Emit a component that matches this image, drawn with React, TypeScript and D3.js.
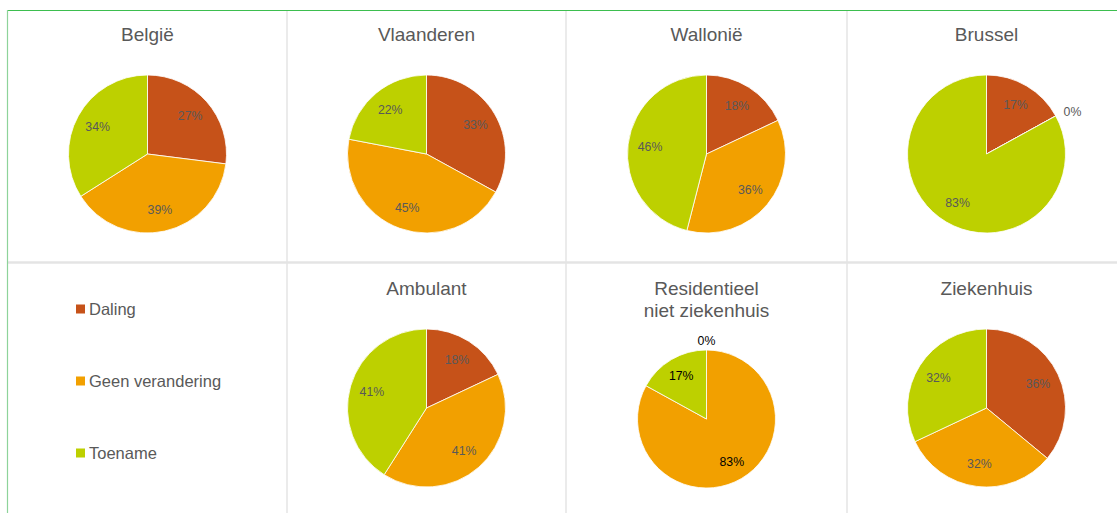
import React from "react";
import * as d3 from "d3";

const categories = ["Daling", "Geen verandering", "Toename"];
const colors = ["#C65219", "#F2A000", "#BDD000"];

const panelTitles = [
  ["België"],
  ["Vlaanderen"],
  ["Wallonië"],
  ["Brussel"],
  ["Ambulant"],
  ["Residentieel", "niet ziekenhuis"],
  ["Ziekenhuis"],
];

// percentages per panel: Daling, Geen verandering, Toename
const belgie = [27, 39, 34];
const vlaanderen = [33, 45, 22];
const wallonie = [18, 36, 46];
const brussel = [17, 0, 83];
const ambulant = [18, 41, 41];
const residentieel = [0, 83, 17];
const ziekenhuis = [36, 32, 32];

const panelValues = [belgie, vlaanderen, wallonie, brussel, ambulant, residentieel, ziekenhuis];
// grid slot of each panel (slot 4 holds the legend)
const panelSlots = [0, 1, 2, 3, 5, 6, 7];

const W = 1117;
const H = 513;
const colEdges = [8, 287, 566, 847, 1126];
const rowTops = [10, 264];
const font = "'Liberation Sans', Arial, sans-serif";

const pie = d3.pie<number>().sort(null).value((d) => d);

function PiePanel({ title, values, slot }: { title: string[]; values: number[]; slot: number }) {
  const col = slot % 4;
  const row = Math.floor(slot / 4);
  const cx = (colEdges[col] + colEdges[col + 1]) / 2;
  const twoLine = title.length > 1;
  const r = twoLine ? 69 : 79;
  const cy = rowTops[row] + (twoLine ? 155 : 144);
  const arc = d3.arc<d3.PieArcDatum<number>>().innerRadius(0).outerRadius(r);
  const arcs = pie(values);
  const labelColor = twoLine ? "#000000" : "#595959";

  return (
    <g>
      {title.map((t, i) => (
        <text
          key={t}
          x={cx}
          y={rowTops[row] + 24 + i * 22}
          textAnchor="middle"
          dominantBaseline="central"
          fontFamily={font}
          fontSize={19}
          fill="#595959"
        >
          {t}
        </text>
      ))}
      <g transform={`translate(${cx},${cy})`}>
        {arcs.map((a, i) => (
          <path key={i} d={arc(a) || ""} fill={colors[i]} stroke="#ffffff" strokeWidth={0.8} />
        ))}
        {arcs.map((a, i) => {
          const mid = (a.startAngle + a.endAngle) / 2;
          const zero = a.value === 0;
          const d = zero ? r + 9 : r * 0.72;
          const x = Math.sin(mid) * d;
          const y = -Math.cos(mid) * d;
          let anchor = "middle";
          if (zero && Math.sin(mid) > 0.3) anchor = "start";
          if (zero && Math.sin(mid) < -0.3) anchor = "end";
          return (
            <text
              key={"l" + i}
              x={x}
              y={y}
              textAnchor={anchor}
              dominantBaseline="central"
              fontFamily={font}
              fontSize={12.3}
              fill={labelColor}
            >
              {a.value + "%"}
            </text>
          );
        })}
      </g>
    </g>
  );
}

function Legend() {
  const ly = d3.scalePoint<string>().domain(categories).range([309, 453]);
  return (
    <g>
      {categories.map((c, i) => (
        <g key={c} transform={`translate(76,${ly(c)})`}>
          <rect x={0} y={-4.5} width={9} height={9} fill={colors[i]} />
          <text
            x={13}
            y={0}
            dominantBaseline="central"
            fontFamily={font}
            fontSize={16.5}
            fill="#595959"
          >
            {c}
          </text>
        </g>
      ))}
    </g>
  );
}

export default function App() {
  return (
    <svg
      width={W}
      height={H}
      viewBox={`0 0 ${W} ${H}`}
      style={{ position: "absolute", left: 0, top: 0, background: "#ffffff" }}
    >
      <rect x={0} y={0} width={W} height={H} fill="#ffffff" />
      {/* panel grid */}
      {colEdges.slice(1, 4).map((x) => (
        <line key={x} x1={x} x2={x} y1={rowTops[0]} y2={H} stroke="#E4E4E4" strokeWidth={1.5} />
      ))}
      <line x1={colEdges[0]} x2={W} y1={rowTops[1] - 1.5} y2={rowTops[1] - 1.5} stroke="#E4E4E4" strokeWidth={2.5} />
      {panelValues.map((v, i) => (
        <PiePanel key={i} title={panelTitles[i]} values={v} slot={panelSlots[i]} />
      ))}
      <Legend />
      {/* outer border */}
      <line x1={7} x2={W} y1={10.5} y2={10.5} stroke="#3DBE4F" strokeWidth={1} />
      <line x1={7.5} x2={7.5} y1={10} y2={H} stroke="#8ED39A" strokeWidth={1.2} />
    </svg>
  );
}
